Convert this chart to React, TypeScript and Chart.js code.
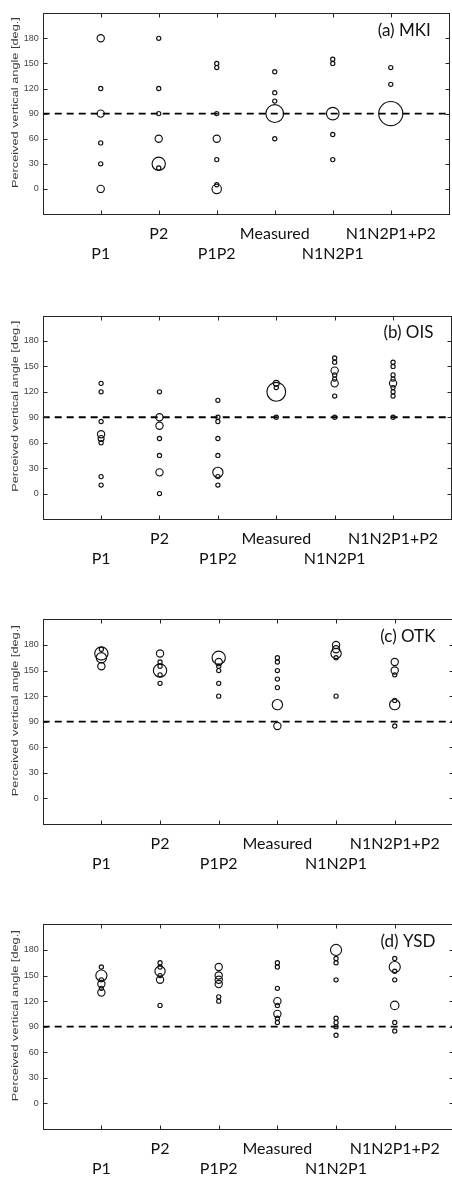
import React, { useEffect, useRef } from 'react';
import { Chart, registerables } from 'chart.js';

Chart.register(...registerables);

// ---------- data ----------
const categories = ['P1', 'P2', 'P1P2', 'Measured', 'N1N2P1', 'N1N2P1+P2'];
const yTicks = [0, 30, 60, 90, 120, 150, 180];
const referenceAngle = 90;
const yAxisTitle = 'Perceived vertical angle [deg.]';
const panelTitles = ['(a) MKI', '(b) OIS', '(c) OTK', '(d) YSD'];

// perceived angles per category, and how many responses each circle stands for
const mkiAngles = [
  [180, 120, 90, 55, 30, 0],
  [180, 120, 90, 60, 30, 25],
  [150, 145, 90, 60, 35, 5, 0],
  [140, 115, 105, 90, 60],
  [155, 150, 90, 65, 35],
  [145, 125, 90],
];
const mkiCounts = [
  [3, 1, 3, 1, 1, 3],
  [1, 1, 1, 3, 10, 1],
  [1, 1, 1, 3, 1, 1, 5],
  [1, 1, 1, 18, 1],
  [1, 1, 9, 1, 1],
  [1, 1, 33],
];

const oisAngles = [
  [130, 120, 85, 70, 65, 60, 20, 10],
  [120, 90, 80, 65, 45, 25, 0],
  [110, 90, 85, 65, 45, 25, 20, 10],
  [130, 125, 120, 90],
  [160, 155, 145, 140, 135, 130, 115, 90],
  [155, 150, 140, 135, 130, 125, 120, 115, 90],
];
const oisCounts = [
  [1, 1, 1, 3, 2, 1, 1, 1],
  [1, 3, 3, 1, 1, 3, 1],
  [1, 1, 1, 1, 1, 6, 1, 1],
  [2, 1, 20, 1],
  [1, 1, 3, 1, 1, 3, 1, 1],
  [1, 1, 1, 1, 3, 1, 1, 1, 1],
];

const otkAngles = [
  [175, 170, 165, 155],
  [170, 160, 155, 150, 145, 135],
  [165, 160, 155, 150, 135, 120],
  [165, 160, 150, 140, 130, 110, 85],
  [180, 175, 170, 165, 120],
  [160, 150, 145, 115, 110, 85],
];
const otkCounts = [
  [1, 10, 6, 3],
  [3, 1, 1, 10, 1, 1],
  [10, 3, 1, 1, 1, 1],
  [1, 1, 1, 1, 1, 6, 3],
  [3, 3, 6, 1, 1],
  [3, 3, 1, 1, 6, 1],
];

const ysdAngles = [
  [160, 150, 145, 140, 135, 130],
  [165, 160, 155, 150, 145, 115],
  [160, 150, 145, 140, 125, 120],
  [165, 160, 135, 120, 115, 105, 100, 95],
  [180, 170, 165, 145, 100, 95, 90, 80],
  [170, 160, 155, 145, 115, 95, 85],
];
const ysdCounts = [
  [1, 7, 1, 3, 1, 3],
  [1, 1, 6, 1, 3, 1],
  [3, 3, 3, 3, 1, 1],
  [1, 1, 1, 3, 1, 3, 1, 1],
  [7, 1, 1, 1, 1, 1, 1, 1],
  [1, 7, 1, 1, 4, 1, 1],
];

const panelAngles = [mkiAngles, oisAngles, otkAngles, ysdAngles];
const panelCounts = [mkiCounts, oisCounts, otkCounts, ysdCounts];

// ---------- layout / style ----------
const CANVAS_W = 462;
const CANVAS_H = 270;
const PANEL_TOPS = [0, 305, 610, 915];
const AXIS_COLOR = '#262626';

const framePlugin = {
  id: 'matlabFrame',
  afterDraw(chart: any, _args: any, opts: any) {
    const { ctx, chartArea, scales } = chart;
    const { left, right, top, bottom } = chartArea;
    const xs = scales.x;
    const ys = scales.y;
    ctx.save();
    ctx.strokeStyle = AXIS_COLOR;
    ctx.lineWidth = 1;
    const L = Math.round(left) + 0.5;
    const R = Math.round(right) + 0.5;
    const T = Math.round(top) + 0.5;
    const B = Math.round(bottom) + 0.5;
    ctx.strokeRect(L, T, R - L, B - T);
    ctx.beginPath();
    xs.ticks.forEach((t: any) => {
      const px = Math.round(xs.getPixelForValue(t.value)) + 0.5;
      ctx.moveTo(px, T);
      ctx.lineTo(px, T + 4);
      ctx.moveTo(px, B);
      ctx.lineTo(px, B - 4);
    });
    ys.ticks.forEach((t: any) => {
      const py = Math.round(ys.getPixelForValue(t.value)) + 0.5;
      ctx.moveTo(L, py);
      ctx.lineTo(L + 4, py);
      ctx.moveTo(R, py);
      ctx.lineTo(R - 4, py);
    });
    ctx.stroke();

    // panel title
    ctx.fillStyle = '#111';
    ctx.font = '17px Lato';
    ctx.textAlign = 'right';
    ctx.textBaseline = 'middle';
    ctx.fillText(opts.title, right - 18, top + 17);

    // y axis title (rotated)
    ctx.fillStyle = '#3a3a3a';
    ctx.font = '9.5px "Liberation Sans"';
    ctx.textAlign = 'center';
    ctx.textBaseline = 'middle';
    const w = ctx.measureText(yAxisTitle).width;
    ctx.translate(15.5, (top + bottom) / 2 - 11);
    ctx.rotate(-Math.PI / 2);
    ctx.scale(171 / w, 1);
    ctx.fillText(yAxisTitle, 0, 0);
    ctx.restore();
  },
};

function Panel({ index }: { index: number }) {
  const ref = useRef<HTMLCanvasElement | null>(null);

  useEffect(() => {
    if (!ref.current) return;
    const angles = panelAngles[index];
    const counts = panelCounts[index];
    const points: any[] = [];
    angles.forEach((list, ci) =>
      list.forEach((a, j) => points.push({ x: ci + 1, y: a, n: counts[ci][j] }))
    );
    const radius = (c: any) => 2.1 * Math.sqrt(c.raw ? c.raw.n : 1);

    const chart = new Chart(ref.current, {
      type: 'scatter',
      data: {
        datasets: [
          {
            data: [
              { x: 0, y: referenceAngle },
              { x: categories.length + 1, y: referenceAngle },
            ],
            showLine: true,
            borderColor: '#000',
            borderWidth: 1.8,
            borderDash: [7, 5],
            pointRadius: 0,
            pointHoverRadius: 0,
          } as any,
          {
            data: points,
            pointRadius: radius,
            pointHoverRadius: radius,
            pointBackgroundColor: 'rgba(0,0,0,0)',
            pointBorderColor: '#111',
            pointBorderWidth: 1.15,
            showLine: false,
          } as any,
        ],
      },
      options: {
        animation: false,
        responsive: false,
        events: [],
        layout: { padding: { top: 7, right: CANVAS_W - 453.4, bottom: 0, left: 0 } },
        plugins: {
          legend: { display: false },
          tooltip: { enabled: false },
          matlabFrame: { title: panelTitles[index] },
        } as any,
        scales: {
          x: {
            type: 'linear',
            min: 0,
            max: categories.length + 1,
            afterBuildTicks: (s: any) => {
              s.ticks = categories.map((_, i) => ({ value: i + 1 }));
            },
            afterFit: (s: any) => {
              s.height = 56;
            },
            ticks: {
              autoSkip: false,
              maxRotation: 0,
              minRotation: 0,
              padding: 10,
              color: '#111',
              font: { family: 'Lato', size: 16, lineHeight: 1.25 },
              callback: (v: any) => {
                const i = Math.round(Number(v)) - 1;
                const lab = categories[i] ?? '';
                return i % 2 === 0 ? ['', lab] : [lab, ''];
              },
            },
            grid: { display: false, drawTicks: false },
            border: { display: false },
          },
          y: {
            min: -30,
            max: 210,
            afterBuildTicks: (s: any) => {
              s.ticks = yTicks.map((v) => ({ value: v }));
            },
            afterFit: (s: any) => {
              s.width = 42.7;
            },
            ticks: {
              padding: 4,
              color: '#444',
              font: { family: 'Liberation Sans', size: 9 },
            },
            grid: { display: false, drawTicks: false },
            border: { display: false },
          },
        },
      } as any,
      plugins: [framePlugin as any],
    });
    return () => chart.destroy();
  }, [index]);

  return (
    <canvas
      ref={ref}
      width={CANVAS_W}
      height={CANVAS_H}
      style={{ position: 'absolute', left: 0, top: PANEL_TOPS[index], width: CANVAS_W, height: CANVAS_H }}
    />
  );
}

export default function App() {
  return (
    <div
      style={{
        position: 'absolute',
        left: 0,
        top: 0,
        width: 452,
        height: 1177,
        overflow: 'hidden',
        background: '#fff',
      }}
    >
      {panelTitles.map((_, i) => (
        <Panel key={i} index={i} />
      ))}
    </div>
  );
}
